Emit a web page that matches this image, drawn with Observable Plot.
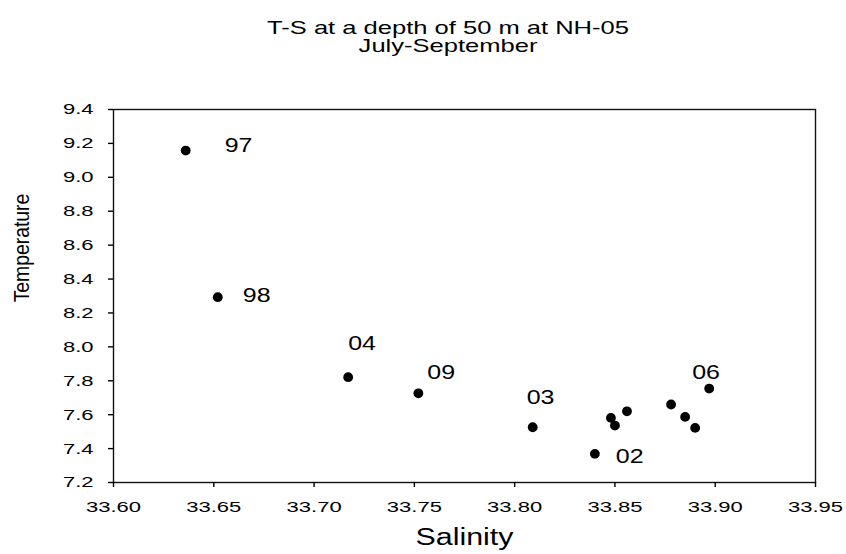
<!DOCTYPE html>
<html>
<head>
<meta charset="utf-8">
<script src="https://cdn.jsdelivr.net/npm/d3@7"></script>
<script src="https://cdn.jsdelivr.net/npm/@observablehq/plot@0.6"></script>
<style>
  html, body { margin: 0; padding: 0; background: #fff; }
  #chart svg { display: block; }
</style>
</head>
<body>
<div id="chart"></div>
<script>
// ---- data ----
const titleLine1 = "T-S at a depth of 50 m at NH-05";
const titleLine2 = "July-September";
const xLabel = "Salinity";
const yLabel = "Temperature";

const salinity    = [33.636, 33.652, 33.717, 33.752, 33.809, 33.840, 33.848, 33.850, 33.856, 33.878, 33.885, 33.890, 33.897];
const temperature = [9.158, 8.293, 7.821, 7.726, 7.526, 7.369, 7.581, 7.536, 7.620, 7.660, 7.587, 7.522, 7.754];
const pointLabels = ["97", "98", "04", "09", "03", "02", "", "", "", "", "", "", "06"];

const xTicks = [33.60, 33.65, 33.70, 33.75, 33.80, 33.85, 33.90, 33.95];
const yTicks = [7.2, 7.4, 7.6, 7.8, 8.0, 8.2, 8.4, 8.6, 8.8, 9.0, 9.2, 9.4];

// ---- build ----
const points = salinity.map((s, i) => ({ s, t: temperature[i], label: pointLabels[i] }));

// label placement offsets (pixels) relative to each point
const labelOffset = {
  "97": [39, -5], "98": [25, -1], "04": [0, -33], "09": [9, -21],
  "03": [-6, -29], "02": [21, 3], "06": [-17, -16]
};

const font = "'Liberation Sans', Arial, Helvetica, sans-serif";

const labelMarks = Object.entries(labelOffset).map(([k, [dx, dy]]) =>
  Plot.text(points.filter(d => d.label === k), {
    x: "s", y: "t", text: "label", dx, dy,
    textAnchor: "start", fontSize: 19.5, fill: "#000"
  })
);

const chart = Plot.plot({
  width: 846,
  height: 554,
  marginLeft: 113,
  marginRight: 31,
  marginTop: 109,
  marginBottom: 72,
  style: { fontFamily: font, background: "#fff", color: "#000", overflow: "visible" },
  x: { domain: [33.60, 33.95], label: null },
  y: { domain: [7.2, 9.4], label: null },
  marks: [
    Plot.frame({ stroke: "#111", strokeWidth: 1.4 }),
    Plot.axisX({ ticks: xTicks, tickFormat: d => d.toFixed(2), tickSize: 5, tickPadding: 14,
                 fontSize: 15.4, strokeWidth: 1.4, label: null }),
    Plot.axisY({ ticks: yTicks, tickFormat: d => d.toFixed(1), tickSize: 5, tickPadding: 15,
                 fontSize: 15.4, strokeWidth: 1.4, label: null }),
    Plot.dot(points, { x: "s", y: "t", r: 4.9, fill: "#000", stroke: null }),
    ...labelMarks,
    Plot.text([titleLine1], { frameAnchor: "top", text: d => d, dx: -16.5, dy: -88.2,
                              textAnchor: "middle", fontSize: 18.5 }),
    Plot.text([titleLine2], { frameAnchor: "top", text: d => d, dx: -16.5, dy: -70.3,
                              textAnchor: "middle", fontSize: 18.5 }),
    Plot.text([xLabel], { frameAnchor: "bottom", text: d => d, dy: 62.5, textAnchor: "middle",
                          fontSize: 23 }),
    Plot.text([yLabel], { frameAnchor: "left", text: d => d, rotate: -90, dx: -91, dy: -48,
                          textAnchor: "middle", fontSize: 21.5 })
  ]
});

document.getElementById("chart").appendChild(chart);

// horizontal stretch of glyphs (by font size) to match the reference's wide lettering
const stretchBySize = { "15.4": 1.43, "19.5": 1.28, "18.5": 1.38, "23": 1.32, "21.5": 0.9 };
chart.querySelectorAll("text").forEach(t => {
  const fs = parseFloat(getComputedStyle(t).fontSize);
  const key = Object.keys(stretchBySize).find(k => Math.abs(parseFloat(k) - fs) < 0.05);
  if (!key) return;
  const L = t.getComputedTextLength();
  if (!(L > 0)) return;
  t.setAttribute("textLength", (L * stretchBySize[key]).toFixed(2));
  t.setAttribute("lengthAdjust", "spacingAndGlyphs");
});
</script>
</body>
</html>
